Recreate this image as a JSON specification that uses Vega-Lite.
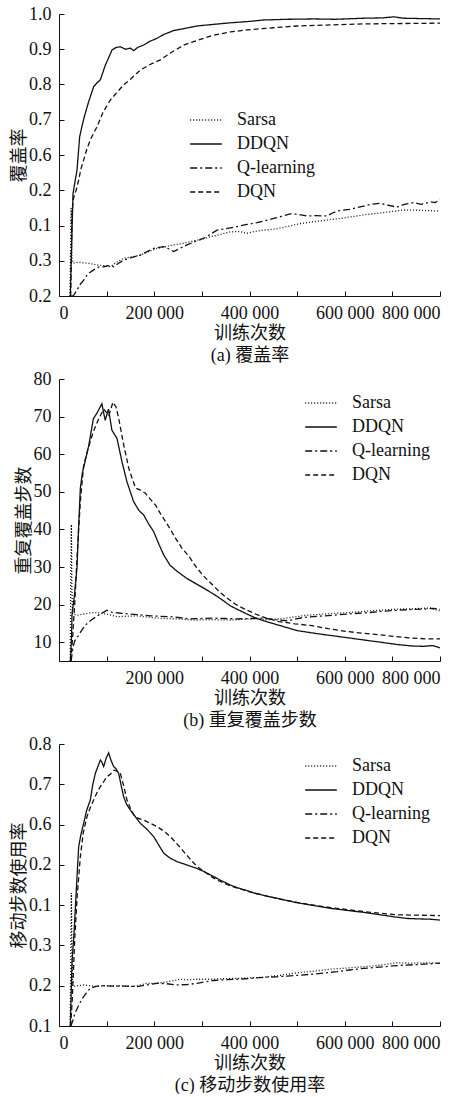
{
  "$schema": "https://vega.github.io/schema/vega-lite/v6.json",
  "padding": {"left": 10, "top": 5, "right": 0, "bottom": 0},
  "background": "white",
  "spacing": 6,
  "resolve": {"legend": {"strokeDash": "independent"}},
  "config": {
    "view": {"stroke": null},
    "axis": {
      "grid": false, "domainColor": "#111", "tickColor": "#111", "labelColor": "#111", "titleColor": "#111",
      "labelFont": "Liberation Serif", "labelFontSize": 18, "titleFont": "Liberation Serif, Noto Sans CJK SC",
      "titleFontSize": 18, "titleFontWeight": "normal", "tickSize": -5, "labelPadding": 13, "titleLineHeight": 22
    },
    "axisY": {"titlePadding": 0},
    "legend": {
      "labelFont": "Liberation Serif", "labelFontSize": 18, "labelColor": "#111", "symbolType": "stroke",
      "symbolSize": 1000, "symbolStrokeWidth": 1.5, "symbolStrokeColor": "#111", "rowPadding": 0, "clipHeight": 24, "labelOffset": 14
    }
  },
  "datasets": {
    "a": [
      {"s":"DDQN","x":23800,"y":0.2},{"s":"DDQN","x":29400,"y":0.49},{"s":"DDQN","x":33000,"y":0.52},{"s":"DDQN","x":37800,"y":0.557},{"s":"DDQN","x":43400,"y":0.652},{"s":"DDQN","x":48000,"y":0.68},{"s":"DDQN","x":53200,"y":0.709},{"s":"DDQN","x":62000,"y":0.75},{"s":"DDQN","x":72800,"y":0.794},{"s":"DDQN","x":80000,"y":0.805},{"s":"DDQN","x":86800,"y":0.813},{"s":"DDQN","x":97300,"y":0.855},{"s":"DDQN","x":104000,"y":0.875},{"s":"DDQN","x":111300,"y":0.898},{"s":"DDQN","x":120000,"y":0.905},{"s":"DDQN","x":128800,"y":0.907},{"s":"DDQN","x":140000,"y":0.9},{"s":"DDQN","x":150000,"y":0.903},{"s":"DDQN","x":156800,"y":0.896},{"s":"DDQN","x":165000,"y":0.905},{"s":"DDQN","x":177800,"y":0.912},{"s":"DDQN","x":190000,"y":0.922},{"s":"DDQN","x":205800,"y":0.931},{"s":"DDQN","x":220000,"y":0.942},{"s":"DDQN","x":240800,"y":0.953},{"s":"DDQN","x":260000,"y":0.958},{"s":"DDQN","x":289800,"y":0.966},{"s":"DDQN","x":320000,"y":0.97},{"s":"DDQN","x":359800,"y":0.975},{"s":"DDQN","x":400000,"y":0.979},{"s":"DDQN","x":429800,"y":0.983},{"s":"DDQN","x":480000,"y":0.985},{"s":"DDQN","x":534800,"y":0.986},{"s":"DDQN","x":580000,"y":0.985},{"s":"DDQN","x":639800,"y":0.988},{"s":"DDQN","x":680000,"y":0.989},{"s":"DDQN","x":702800,"y":0.992},{"s":"DDQN","x":723800,"y":0.988},{"s":"DDQN","x":760000,"y":0.987},{"s":"DDQN","x":800000,"y":0.986},
      {"s":"DQN","x":24500,"y":0.2},{"s":"DQN","x":27000,"y":0.42},{"s":"DQN","x":29400,"y":0.472},{"s":"DQN","x":33000,"y":0.49},{"s":"DQN","x":36000,"y":0.5},{"s":"DQN","x":41300,"y":0.529},{"s":"DQN","x":46000,"y":0.56},{"s":"DQN","x":51800,"y":0.586},{"s":"DQN","x":58000,"y":0.615},{"s":"DQN","x":65800,"y":0.643},{"s":"DQN","x":72000,"y":0.66},{"s":"DQN","x":79800,"y":0.68},{"s":"DQN","x":92000,"y":0.72},{"s":"DQN","x":107800,"y":0.756},{"s":"DQN","x":120000,"y":0.775},{"s":"DQN","x":135800,"y":0.799},{"s":"DQN","x":150000,"y":0.815},{"s":"DQN","x":170800,"y":0.841},{"s":"DQN","x":190000,"y":0.856},{"s":"DQN","x":212800,"y":0.87},{"s":"DQN","x":235000,"y":0.89},{"s":"DQN","x":261800,"y":0.912},{"s":"DQN","x":290000,"y":0.925},{"s":"DQN","x":324800,"y":0.94},{"s":"DQN","x":360000,"y":0.949},{"s":"DQN","x":394800,"y":0.955},{"s":"DQN","x":450000,"y":0.961},{"s":"DQN","x":499800,"y":0.966},{"s":"DQN","x":570000,"y":0.969},{"s":"DQN","x":639800,"y":0.972},{"s":"DQN","x":720000,"y":0.973},{"s":"DQN","x":800000,"y":0.974},
      {"s":"Sarsa","x":23000,"y":0.2},{"s":"Sarsa","x":24500,"y":0.35},{"s":"Sarsa","x":25500,"y":0.45},{"s":"Sarsa","x":27000,"y":0.31},{"s":"Sarsa","x":30000,"y":0.293},{"s":"Sarsa","x":40000,"y":0.296},{"s":"Sarsa","x":51800,"y":0.294},{"s":"Sarsa","x":65000,"y":0.292},{"s":"Sarsa","x":79800,"y":0.288},{"s":"Sarsa","x":95000,"y":0.286},{"s":"Sarsa","x":107800,"y":0.283},{"s":"Sarsa","x":120000,"y":0.295},{"s":"Sarsa","x":135800,"y":0.307},{"s":"Sarsa","x":150000,"y":0.31},{"s":"Sarsa","x":170800,"y":0.316},{"s":"Sarsa","x":190000,"y":0.327},{"s":"Sarsa","x":205800,"y":0.335},{"s":"Sarsa","x":220000,"y":0.339},{"s":"Sarsa","x":240800,"y":0.345},{"s":"Sarsa","x":260000,"y":0.349},{"s":"Sarsa","x":275800,"y":0.354},{"s":"Sarsa","x":300000,"y":0.361},{"s":"Sarsa","x":317800,"y":0.368},{"s":"Sarsa","x":340000,"y":0.375},{"s":"Sarsa","x":359800,"y":0.382},{"s":"Sarsa","x":380000,"y":0.383},{"s":"Sarsa","x":394800,"y":0.378},{"s":"Sarsa","x":410000,"y":0.383},{"s":"Sarsa","x":429800,"y":0.387},{"s":"Sarsa","x":455000,"y":0.39},{"s":"Sarsa","x":478800,"y":0.397},{"s":"Sarsa","x":505000,"y":0.405},{"s":"Sarsa","x":534800,"y":0.411},{"s":"Sarsa","x":560000,"y":0.415},{"s":"Sarsa","x":590800,"y":0.42},{"s":"Sarsa","x":615000,"y":0.425},{"s":"Sarsa","x":639800,"y":0.43},{"s":"Sarsa","x":670000,"y":0.435},{"s":"Sarsa","x":695800,"y":0.439},{"s":"Sarsa","x":723800,"y":0.444},{"s":"Sarsa","x":760000,"y":0.443},{"s":"Sarsa","x":800000,"y":0.441},
      {"s":"Q-learning","x":26000,"y":0.2},{"s":"Q-learning","x":30000,"y":0.2},{"s":"Q-learning","x":37800,"y":0.217},{"s":"Q-learning","x":44000,"y":0.232},{"s":"Q-learning","x":51800,"y":0.245},{"s":"Q-learning","x":60000,"y":0.262},{"s":"Q-learning","x":72800,"y":0.274},{"s":"Q-learning","x":83000,"y":0.282},{"s":"Q-learning","x":93800,"y":0.283},{"s":"Q-learning","x":104000,"y":0.286},{"s":"Q-learning","x":114800,"y":0.283},{"s":"Q-learning","x":125000,"y":0.293},{"s":"Q-learning","x":135800,"y":0.302},{"s":"Q-learning","x":150000,"y":0.308},{"s":"Q-learning","x":170800,"y":0.316},{"s":"Q-learning","x":185000,"y":0.326},{"s":"Q-learning","x":198800,"y":0.335},{"s":"Q-learning","x":210000,"y":0.338},{"s":"Q-learning","x":219800,"y":0.34},{"s":"Q-learning","x":230000,"y":0.334},{"s":"Q-learning","x":240800,"y":0.326},{"s":"Q-learning","x":255000,"y":0.336},{"s":"Q-learning","x":268800,"y":0.345},{"s":"Q-learning","x":285000,"y":0.354},{"s":"Q-learning","x":303800,"y":0.364},{"s":"Q-learning","x":318000,"y":0.375},{"s":"Q-learning","x":331800,"y":0.387},{"s":"Q-learning","x":350000,"y":0.391},{"s":"Q-learning","x":373800,"y":0.397},{"s":"Q-learning","x":395000,"y":0.403},{"s":"Q-learning","x":415800,"y":0.408},{"s":"Q-learning","x":430000,"y":0.413},{"s":"Q-learning","x":450800,"y":0.42},{"s":"Q-learning","x":470000,"y":0.427},{"s":"Q-learning","x":485800,"y":0.433},{"s":"Q-learning","x":500000,"y":0.432},{"s":"Q-learning","x":520800,"y":0.427},{"s":"Q-learning","x":540000,"y":0.428},{"s":"Q-learning","x":562800,"y":0.427},{"s":"Q-learning","x":572000,"y":0.434},{"s":"Q-learning","x":583800,"y":0.441},{"s":"Q-learning","x":610000,"y":0.446},{"s":"Q-learning","x":639800,"y":0.455},{"s":"Q-learning","x":655000,"y":0.46},{"s":"Q-learning","x":674800,"y":0.463},{"s":"Q-learning","x":690000,"y":0.458},{"s":"Q-learning","x":709800,"y":0.452},{"s":"Q-learning","x":725000,"y":0.46},{"s":"Q-learning","x":744800,"y":0.465},{"s":"Q-learning","x":760000,"y":0.46},{"s":"Q-learning","x":779800,"y":0.467},{"s":"Q-learning","x":790000,"y":0.465},{"s":"Q-learning","x":800000,"y":0.474}
    ],
    "b": [
      {"s":"DDQN","x":24000,"y":5.2},{"s":"DDQN","x":26500,"y":12},{"s":"DDQN","x":27300,"y":17.5},{"s":"DDQN","x":32000,"y":22},{"s":"DDQN","x":37800,"y":29.8},{"s":"DDQN","x":41000,"y":40},{"s":"DDQN","x":44800,"y":50.9},{"s":"DDQN","x":49000,"y":55},{"s":"DDQN","x":54600,"y":58},{"s":"DDQN","x":62000,"y":62},{"s":"DDQN","x":72100,"y":69.4},{"s":"DDQN","x":80000,"y":71},{"s":"DDQN","x":90000,"y":73.4},{"s":"DDQN","x":97000,"y":69},{"s":"DDQN","x":104000,"y":72},{"s":"DDQN","x":111000,"y":66.4},{"s":"DDQN","x":121800,"y":64.2},{"s":"DDQN","x":132200,"y":58},{"s":"DDQN","x":142600,"y":52.7},{"s":"DDQN","x":156600,"y":47.4},{"s":"DDQN","x":168000,"y":45},{"s":"DDQN","x":177500,"y":43.9},{"s":"DDQN","x":188000,"y":41.5},{"s":"DDQN","x":198500,"y":39.5},{"s":"DDQN","x":210000,"y":36},{"s":"DDQN","x":219500,"y":33.3},{"s":"DDQN","x":233000,"y":30.5},{"s":"DDQN","x":247500,"y":28.9},{"s":"DDQN","x":268000,"y":27},{"s":"DDQN","x":289500,"y":25.4},{"s":"DDQN","x":305000,"y":24.3},{"s":"DDQN","x":324500,"y":22.8},{"s":"DDQN","x":340000,"y":21.5},{"s":"DDQN","x":359500,"y":19.7},{"s":"DDQN","x":375000,"y":18.7},{"s":"DDQN","x":394500,"y":17.5},{"s":"DDQN","x":410000,"y":16.6},{"s":"DDQN","x":429500,"y":15.7},{"s":"DDQN","x":464500,"y":14.4},{"s":"DDQN","x":499500,"y":13.1},{"s":"DDQN","x":535000,"y":12.4},{"s":"DDQN","x":569500,"y":11.8},{"s":"DDQN","x":605000,"y":11.2},{"s":"DDQN","x":639500,"y":10.6},{"s":"DDQN","x":675000,"y":10},{"s":"DDQN","x":709500,"y":9.4},{"s":"DDQN","x":740000,"y":9},{"s":"DDQN","x":765500,"y":8.9},{"s":"DDQN","x":785000,"y":9.1},{"s":"DDQN","x":800000,"y":8.5},
      {"s":"DQN","x":25000,"y":5},{"s":"DQN","x":29000,"y":12},{"s":"DQN","x":33300,"y":21},{"s":"DQN","x":38000,"y":33},{"s":"DQN","x":44800,"y":47.4},{"s":"DQN","x":51800,"y":57},{"s":"DQN","x":60000,"y":61},{"s":"DQN","x":72100,"y":66},{"s":"DQN","x":82000,"y":69},{"s":"DQN","x":93800,"y":72},{"s":"DQN","x":104800,"y":70.3},{"s":"DQN","x":113200,"y":73.8},{"s":"DQN","x":120000,"y":72.5},{"s":"DQN","x":125500,"y":69.4},{"s":"DQN","x":136000,"y":62.4},{"s":"DQN","x":146600,"y":56.2},{"s":"DQN","x":160600,"y":51},{"s":"DQN","x":170000,"y":50.5},{"s":"DQN","x":181500,"y":49.6},{"s":"DQN","x":192000,"y":48},{"s":"DQN","x":202500,"y":46.5},{"s":"DQN","x":213000,"y":44.2},{"s":"DQN","x":223500,"y":42.1},{"s":"DQN","x":234000,"y":40},{"s":"DQN","x":244500,"y":37.7},{"s":"DQN","x":258000,"y":35},{"s":"DQN","x":272500,"y":32.9},{"s":"DQN","x":287000,"y":30.2},{"s":"DQN","x":300500,"y":28},{"s":"DQN","x":318000,"y":25.8},{"s":"DQN","x":335500,"y":23.6},{"s":"DQN","x":352000,"y":21.8},{"s":"DQN","x":370500,"y":20.1},{"s":"DQN","x":390000,"y":18.8},{"s":"DQN","x":412500,"y":17.5},{"s":"DQN","x":435000,"y":16.4},{"s":"DQN","x":461500,"y":15.5},{"s":"DQN","x":495000,"y":14.9},{"s":"DQN","x":531500,"y":14.4},{"s":"DQN","x":565000,"y":13.6},{"s":"DQN","x":601500,"y":12.9},{"s":"DQN","x":635000,"y":12.4},{"s":"DQN","x":671500,"y":12},{"s":"DQN","x":705000,"y":11.5},{"s":"DQN","x":741500,"y":11.1},{"s":"DQN","x":770000,"y":10.9},{"s":"DQN","x":800000,"y":10.9},
      {"s":"Sarsa","x":23500,"y":5},{"s":"Sarsa","x":25000,"y":30},{"s":"Sarsa","x":26000,"y":41.3},{"s":"Sarsa","x":27000,"y":25},{"s":"Sarsa","x":28600,"y":17.5},{"s":"Sarsa","x":40000,"y":17.2},{"s":"Sarsa","x":51800,"y":17.5},{"s":"Sarsa","x":65000,"y":17.8},{"s":"Sarsa","x":79800,"y":17.9},{"s":"Sarsa","x":90000,"y":17.6},{"s":"Sarsa","x":100800,"y":17.5},{"s":"Sarsa","x":110000,"y":17.2},{"s":"Sarsa","x":121800,"y":16.8},{"s":"Sarsa","x":140000,"y":16.9},{"s":"Sarsa","x":163800,"y":17},{"s":"Sarsa","x":185000,"y":16.7},{"s":"Sarsa","x":205800,"y":16.4},{"s":"Sarsa","x":225000,"y":16.3},{"s":"Sarsa","x":247800,"y":16.2},{"s":"Sarsa","x":270000,"y":16},{"s":"Sarsa","x":289800,"y":15.9},{"s":"Sarsa","x":320000,"y":16},{"s":"Sarsa","x":359800,"y":15.9},{"s":"Sarsa","x":390000,"y":16.1},{"s":"Sarsa","x":415800,"y":16.2},{"s":"Sarsa","x":440000,"y":16},{"s":"Sarsa","x":464800,"y":16.2},{"s":"Sarsa","x":482000,"y":16.5},{"s":"Sarsa","x":499800,"y":16.8},{"s":"Sarsa","x":515000,"y":17.1},{"s":"Sarsa","x":534800,"y":17.3},{"s":"Sarsa","x":560000,"y":17.5},{"s":"Sarsa","x":583800,"y":17.7},{"s":"Sarsa","x":610000,"y":17.9},{"s":"Sarsa","x":639800,"y":18.2},{"s":"Sarsa","x":675000,"y":18.5},{"s":"Sarsa","x":709800,"y":18.8},{"s":"Sarsa","x":745000,"y":18.9},{"s":"Sarsa","x":779800,"y":19.1},{"s":"Sarsa","x":790000,"y":18.7},{"s":"Sarsa","x":800000,"y":18.4},
      {"s":"Q-learning","x":25500,"y":5},{"s":"Q-learning","x":29000,"y":8.5},{"s":"Q-learning","x":33300,"y":10.4},{"s":"Q-learning","x":38000,"y":11.2},{"s":"Q-learning","x":44800,"y":12.6},{"s":"Q-learning","x":55000,"y":14.5},{"s":"Q-learning","x":65800,"y":15.7},{"s":"Q-learning","x":76000,"y":16.6},{"s":"Q-learning","x":86800,"y":17.5},{"s":"Q-learning","x":94000,"y":18},{"s":"Q-learning","x":100800,"y":18.5},{"s":"Q-learning","x":107000,"y":18.1},{"s":"Q-learning","x":114800,"y":17.9},{"s":"Q-learning","x":130000,"y":17.7},{"s":"Q-learning","x":149800,"y":17.5},{"s":"Q-learning","x":170000,"y":17.3},{"s":"Q-learning","x":191800,"y":17},{"s":"Q-learning","x":212000,"y":16.9},{"s":"Q-learning","x":233800,"y":16.8},{"s":"Q-learning","x":255000,"y":16.5},{"s":"Q-learning","x":275800,"y":16.2},{"s":"Q-learning","x":300000,"y":16.3},{"s":"Q-learning","x":324800,"y":16.4},{"s":"Q-learning","x":350000,"y":16.3},{"s":"Q-learning","x":373800,"y":16.2},{"s":"Q-learning","x":400000,"y":16.3},{"s":"Q-learning","x":429800,"y":16.4},{"s":"Q-learning","x":455000,"y":16},{"s":"Q-learning","x":478800,"y":15.7},{"s":"Q-learning","x":495000,"y":16.1},{"s":"Q-learning","x":513800,"y":16.6},{"s":"Q-learning","x":535000,"y":16.8},{"s":"Q-learning","x":555800,"y":17},{"s":"Q-learning","x":580000,"y":17.2},{"s":"Q-learning","x":604800,"y":17.5},{"s":"Q-learning","x":630000,"y":17.7},{"s":"Q-learning","x":653800,"y":17.9},{"s":"Q-learning","x":680000,"y":18.2},{"s":"Q-learning","x":709800,"y":18.5},{"s":"Q-learning","x":740000,"y":18.7},{"s":"Q-learning","x":765800,"y":18.8},{"s":"Q-learning","x":785000,"y":19},{"s":"Q-learning","x":800000,"y":18.8}
    ],
    "c": [
      {"s":"DDQN","x":23800,"y":0.1},{"s":"DDQN","x":25500,"y":0.18},{"s":"DDQN","x":27300,"y":0.256},{"s":"DDQN","x":32000,"y":0.34},{"s":"DDQN","x":37800,"y":0.47},{"s":"DDQN","x":41300,"y":0.545},{"s":"DDQN","x":46000,"y":0.575},{"s":"DDQN","x":51800,"y":0.603},{"s":"DDQN","x":58000,"y":0.635},{"s":"DDQN","x":65800,"y":0.661},{"s":"DDQN","x":71000,"y":0.7},{"s":"DDQN","x":76300,"y":0.727},{"s":"DDQN","x":82000,"y":0.745},{"s":"DDQN","x":86800,"y":0.76},{"s":"DDQN","x":90000,"y":0.755},{"s":"DDQN","x":93800,"y":0.744},{"s":"DDQN","x":99000,"y":0.765},{"s":"DDQN","x":104300,"y":0.778},{"s":"DDQN","x":109000,"y":0.76},{"s":"DDQN","x":114800,"y":0.744},{"s":"DDQN","x":120000,"y":0.738},{"s":"DDQN","x":125300,"y":0.727},{"s":"DDQN","x":130000,"y":0.7},{"s":"DDQN","x":135800,"y":0.669},{"s":"DDQN","x":142000,"y":0.65},{"s":"DDQN","x":149800,"y":0.636},{"s":"DDQN","x":160000,"y":0.62},{"s":"DDQN","x":170800,"y":0.603},{"s":"DDQN","x":185000,"y":0.588},{"s":"DDQN","x":198800,"y":0.57},{"s":"DDQN","x":209000,"y":0.55},{"s":"DDQN","x":219800,"y":0.529},{"s":"DDQN","x":233000,"y":0.517},{"s":"DDQN","x":247800,"y":0.508},{"s":"DDQN","x":268000,"y":0.5},{"s":"DDQN","x":289800,"y":0.491},{"s":"DDQN","x":305000,"y":0.483},{"s":"DDQN","x":324800,"y":0.471},{"s":"DDQN","x":342000,"y":0.46},{"s":"DDQN","x":359800,"y":0.45},{"s":"DDQN","x":375000,"y":0.443},{"s":"DDQN","x":394800,"y":0.436},{"s":"DDQN","x":410000,"y":0.43},{"s":"DDQN","x":429800,"y":0.424},{"s":"DDQN","x":465000,"y":0.415},{"s":"DDQN","x":499800,"y":0.406},{"s":"DDQN","x":535000,"y":0.399},{"s":"DDQN","x":569800,"y":0.392},{"s":"DDQN","x":605000,"y":0.387},{"s":"DDQN","x":639800,"y":0.382},{"s":"DDQN","x":675000,"y":0.376},{"s":"DDQN","x":709800,"y":0.37},{"s":"DDQN","x":730000,"y":0.367},{"s":"DDQN","x":751800,"y":0.366},{"s":"DDQN","x":780000,"y":0.365},{"s":"DDQN","x":800000,"y":0.363},
      {"s":"DQN","x":24500,"y":0.1},{"s":"DQN","x":28000,"y":0.17},{"s":"DQN","x":33300,"y":0.322},{"s":"DQN","x":38000,"y":0.42},{"s":"DQN","x":44800,"y":0.52},{"s":"DQN","x":51000,"y":0.58},{"s":"DQN","x":58800,"y":0.62},{"s":"DQN","x":65000,"y":0.64},{"s":"DQN","x":72800,"y":0.661},{"s":"DQN","x":80000,"y":0.68},{"s":"DQN","x":86800,"y":0.694},{"s":"DQN","x":93000,"y":0.705},{"s":"DQN","x":100800,"y":0.719},{"s":"DQN","x":108000,"y":0.725},{"s":"DQN","x":114800,"y":0.735},{"s":"DQN","x":121000,"y":0.733},{"s":"DQN","x":128800,"y":0.727},{"s":"DQN","x":135000,"y":0.7},{"s":"DQN","x":142800,"y":0.661},{"s":"DQN","x":150000,"y":0.64},{"s":"DQN","x":156800,"y":0.624},{"s":"DQN","x":165000,"y":0.616},{"s":"DQN","x":177800,"y":0.611},{"s":"DQN","x":190000,"y":0.604},{"s":"DQN","x":205800,"y":0.595},{"s":"DQN","x":220000,"y":0.584},{"s":"DQN","x":233800,"y":0.57},{"s":"DQN","x":247000,"y":0.553},{"s":"DQN","x":261800,"y":0.533},{"s":"DQN","x":275000,"y":0.515},{"s":"DQN","x":289800,"y":0.496},{"s":"DQN","x":305000,"y":0.483},{"s":"DQN","x":324800,"y":0.467},{"s":"DQN","x":340000,"y":0.458},{"s":"DQN","x":359800,"y":0.448},{"s":"DQN","x":395000,"y":0.435},{"s":"DQN","x":429800,"y":0.424},{"s":"DQN","x":465000,"y":0.415},{"s":"DQN","x":499800,"y":0.407},{"s":"DQN","x":535000,"y":0.4},{"s":"DQN","x":569800,"y":0.394},{"s":"DQN","x":605000,"y":0.389},{"s":"DQN","x":639800,"y":0.384},{"s":"DQN","x":675000,"y":0.38},{"s":"DQN","x":709800,"y":0.376},{"s":"DQN","x":760000,"y":0.375},{"s":"DQN","x":800000,"y":0.374},
      {"s":"Sarsa","x":23500,"y":0.1},{"s":"Sarsa","x":25000,"y":0.3},{"s":"Sarsa","x":26000,"y":0.43},{"s":"Sarsa","x":27000,"y":0.3},{"s":"Sarsa","x":28600,"y":0.198},{"s":"Sarsa","x":40000,"y":0.2},{"s":"Sarsa","x":51800,"y":0.202},{"s":"Sarsa","x":65000,"y":0.2},{"s":"Sarsa","x":79800,"y":0.198},{"s":"Sarsa","x":95000,"y":0.2},{"s":"Sarsa","x":114800,"y":0.199},{"s":"Sarsa","x":130000,"y":0.2},{"s":"Sarsa","x":149800,"y":0.198},{"s":"Sarsa","x":165000,"y":0.2},{"s":"Sarsa","x":184800,"y":0.206},{"s":"Sarsa","x":200000,"y":0.206},{"s":"Sarsa","x":219800,"y":0.208},{"s":"Sarsa","x":237000,"y":0.212},{"s":"Sarsa","x":254800,"y":0.216},{"s":"Sarsa","x":270000,"y":0.215},{"s":"Sarsa","x":289800,"y":0.216},{"s":"Sarsa","x":320000,"y":0.216},{"s":"Sarsa","x":359800,"y":0.218},{"s":"Sarsa","x":395000,"y":0.219},{"s":"Sarsa","x":429800,"y":0.221},{"s":"Sarsa","x":465000,"y":0.226},{"s":"Sarsa","x":499800,"y":0.232},{"s":"Sarsa","x":535000,"y":0.236},{"s":"Sarsa","x":569800,"y":0.241},{"s":"Sarsa","x":605000,"y":0.244},{"s":"Sarsa","x":639800,"y":0.247},{"s":"Sarsa","x":674800,"y":0.251},{"s":"Sarsa","x":709800,"y":0.257},{"s":"Sarsa","x":740000,"y":0.256},{"s":"Sarsa","x":770000,"y":0.257},{"s":"Sarsa","x":800000,"y":0.256},
      {"s":"Q-learning","x":25000,"y":0.1},{"s":"Q-learning","x":28000,"y":0.11},{"s":"Q-learning","x":33300,"y":0.131},{"s":"Q-learning","x":40000,"y":0.148},{"s":"Q-learning","x":47300,"y":0.165},{"s":"Q-learning","x":56000,"y":0.18},{"s":"Q-learning","x":65800,"y":0.194},{"s":"Q-learning","x":79800,"y":0.199},{"s":"Q-learning","x":95000,"y":0.2},{"s":"Q-learning","x":114800,"y":0.199},{"s":"Q-learning","x":140000,"y":0.199},{"s":"Q-learning","x":163800,"y":0.198},{"s":"Q-learning","x":185000,"y":0.202},{"s":"Q-learning","x":205800,"y":0.206},{"s":"Q-learning","x":225000,"y":0.205},{"s":"Q-learning","x":247800,"y":0.202},{"s":"Q-learning","x":270000,"y":0.203},{"s":"Q-learning","x":289800,"y":0.206},{"s":"Q-learning","x":305000,"y":0.209},{"s":"Q-learning","x":324800,"y":0.213},{"s":"Q-learning","x":350000,"y":0.215},{"s":"Q-learning","x":373800,"y":0.216},{"s":"Q-learning","x":400000,"y":0.218},{"s":"Q-learning","x":429800,"y":0.221},{"s":"Q-learning","x":455000,"y":0.222},{"s":"Q-learning","x":478800,"y":0.224},{"s":"Q-learning","x":505000,"y":0.226},{"s":"Q-learning","x":534800,"y":0.229},{"s":"Q-learning","x":560000,"y":0.232},{"s":"Q-learning","x":583800,"y":0.235},{"s":"Q-learning","x":610000,"y":0.239},{"s":"Q-learning","x":639800,"y":0.243},{"s":"Q-learning","x":660000,"y":0.245},{"s":"Q-learning","x":681800,"y":0.247},{"s":"Q-learning","x":700000,"y":0.249},{"s":"Q-learning","x":723800,"y":0.251},{"s":"Q-learning","x":760000,"y":0.253},{"s":"Q-learning","x":800000,"y":0.256}
    ]
  },
  "vconcat": [
    {
      "width": 381, "height": 282,
      "data": {"name": "a"},
      "mark": {"type": "line", "color": "#111", "strokeWidth": 1.3, "clip": true},
      "encoding": {
        "x": {"field": "x", "type": "quantitative", "scale": {"domain": [0, 800000], "nice": false},
          "axis": {"values": [0,100000,200000,300000,400000,500000,600000,700000,800000], "labelExpr": "datum.value % 200000 === 0 ? replace(format(datum.value, ','), ',', ' ') : ''", "title": ["训练次数", "(a) 覆盖率"], "titlePadding": 2}},
        "y": {"field": "y", "type": "quantitative", "scale": {"domain": [0.2, 1.0], "nice": false, "zero": false},
          "axis": {"values": [0.2,0.3,0.4,0.5,0.6,0.7,0.8,0.9,1.0], "labelExpr": "abs(datum.value-0.5)<0.01 ? '0.2' : abs(datum.value-0.4)<0.01 ? '0.1' : format(datum.value, '.1f')", "title": "覆盖率"}},
        "strokeDash": {"field": "s", "type": "nominal", "scale": {"domain": ["Sarsa","DDQN","Q-learning","DQN"], "range": [[1,2],[1,0],[7,3,2,3],[5,3]]},
          "legend": {"orient": "none", "legendX": 130, "legendY": 94, "title": null}}
      }
    },
    {
      "width": 381, "height": 282,
      "data": {"name": "b"},
      "mark": {"type": "line", "color": "#111", "strokeWidth": 1.3, "clip": true},
      "encoding": {
        "x": {"field": "x", "type": "quantitative", "scale": {"domain": [0, 800000], "nice": false},
          "axis": {"values": [0,100000,200000,300000,400000,500000,600000,700000,800000], "labelExpr": "datum.value % 200000 === 0 && datum.value > 0 ? replace(format(datum.value, ','), ',', ' ') : ''", "title": ["训练次数", "(b) 重复覆盖步数"], "titlePadding": 2}},
        "y": {"field": "y", "type": "quantitative", "scale": {"domain": [5, 80], "nice": false, "zero": false},
          "axis": {"values": [10,20,30,40,50,60,70,80], "title": "重复覆盖步数"}},
        "strokeDash": {"field": "s", "type": "nominal", "scale": {"domain": ["Sarsa","DDQN","Q-learning","DQN"], "range": [[1,2],[1,0],[7,3,2,3],[5,3]]},
          "legend": {"orient": "none", "legendX": 245, "legendY": 12, "title": null}}
      }
    },
    {
      "width": 381, "height": 282,
      "data": {"name": "c"},
      "mark": {"type": "line", "color": "#111", "strokeWidth": 1.3, "clip": true},
      "encoding": {
        "x": {"field": "x", "type": "quantitative", "scale": {"domain": [0, 800000], "nice": false},
          "axis": {"values": [0,100000,200000,300000,400000,500000,600000,700000,800000], "labelExpr": "datum.value % 200000 === 0 ? replace(format(datum.value, ','), ',', ' ') : ''", "title": ["训练次数", "(c) 移动步数使用率"], "titlePadding": 2}},
        "y": {"field": "y", "type": "quantitative", "scale": {"domain": [0.1, 0.8], "nice": false, "zero": false},
          "axis": {"values": [0.1,0.2,0.3,0.4,0.5,0.6,0.7,0.8], "labelExpr": "abs(datum.value-0.5)<0.01 ? '0.2' : abs(datum.value-0.4)<0.01 ? '0.1' : format(datum.value, '.1f')", "title": "移动步数使用率"}},
        "strokeDash": {"field": "s", "type": "nominal", "scale": {"domain": ["Sarsa","DDQN","Q-learning","DQN"], "range": [[1,2],[1,0],[7,3,2,3],[5,3]]},
          "legend": {"orient": "none", "legendX": 245, "legendY": 10, "title": null}}
      }
    }
  ]
}
